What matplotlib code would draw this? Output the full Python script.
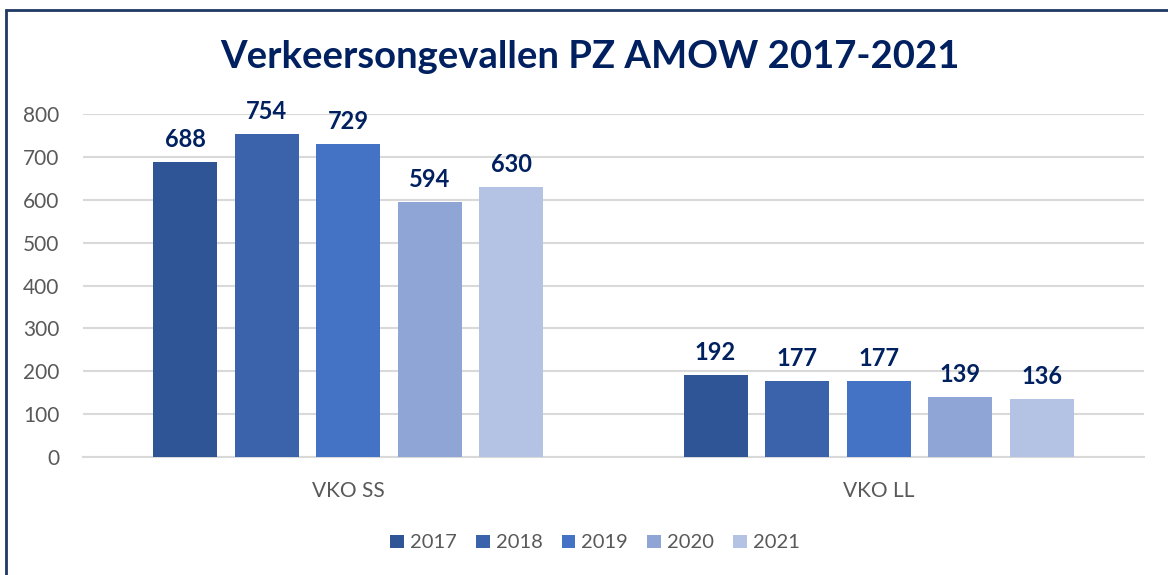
import numpy as np
import matplotlib.pyplot as plt
from matplotlib.patches import Rectangle

plt.rcParams['font.family'] = ['Lato', 'DejaVu Sans']

# === Datos ===
categories = ["VKO SS", "VKO LL"]
years = ["2017", "2018", "2019", "2020", "2021"]
values = {
    "2017": [688, 192],
    "2018": [754, 177],
    "2019": [729, 177],
    "2020": [594, 139],
    "2021": [630, 136],
}
colors = ["#2F5597", "#3A63AB", "#4472C4", "#8FA5D5", "#B4C2E3"]

NAVY = "#002060"
GREY = "#595959"

fig = plt.figure(figsize=(11.68, 5.75), dpi=100)
ax = fig.add_axes([83/1168, 1 - 457/575, 1061/1168, 343/575])

x = np.arange(len(categories))
step = 81.5 / 530
width = 64 / 530
for i, (yr, c) in enumerate(zip(years, colors)):
    off = (i - 2) * step
    bars = ax.bar(x + off, values[yr], width, color=c, label=yr, zorder=3)
    ax.bar_label(bars, padding=8, color=NAVY, fontsize=17, fontweight="bold")

ax.set_xlim(-0.5, 1.5)
ax.set_ylim(0, 800)
ax.set_yticks(range(0, 801, 100))
ax.set_xticks(x)
ax.set_xticklabels(categories)
ax.tick_params(axis="both", length=0, labelsize=15, labelcolor=GREY)
ax.tick_params(axis="x", pad=17)
ax.tick_params(axis="y", pad=17)
ax.grid(axis="y", color="#D9D9D9", lw=1.5, zorder=0)
for s in ["top", "right", "left"]:
    ax.spines[s].set_visible(False)
ax.spines["bottom"].set_color("#D9D9D9")
ax.spines["bottom"].set_linewidth(1.5)

fig.text(590/1168, 1 - 57/575, "Verkeersongevallen PZ AMOW 2017-2021",
         ha="center", va="center", color=NAVY, fontsize=27.5, fontweight="bold")

leg = fig.legend(loc="center", bbox_to_anchor=(595/1168, 1 - 543/575), ncol=5,
                 frameon=False, fontsize=14.5, handlelength=0.68, handleheight=0.68,
                 handletextpad=0.3, columnspacing=0.95)
for t in leg.get_texts():
    t.set_color(GREY)

# borde del gráfico
fig.patches.append(Rectangle((6/1168, -0.1), 1.2, 1.1 - 10/575, transform=fig.transFigure,
                             fill=False, edgecolor="#1F3864", lw=2))

fig.savefig("out.png", dpi=100)
